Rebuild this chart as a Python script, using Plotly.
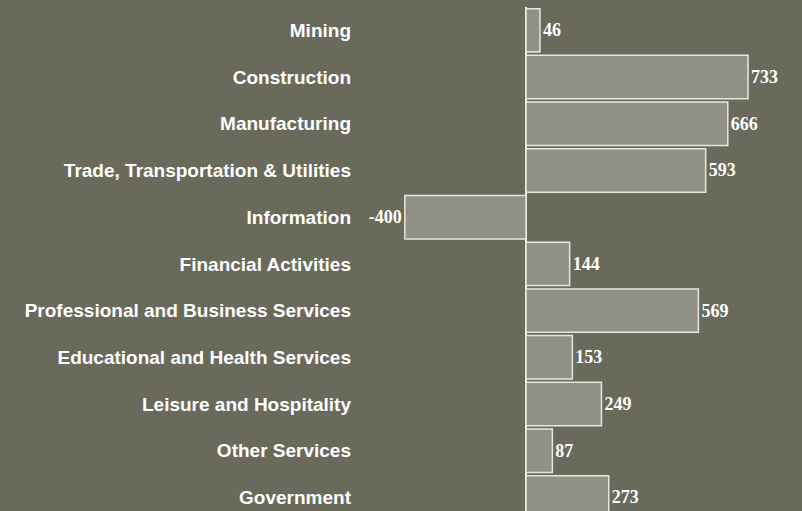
import plotly.graph_objects as go

categories = ["Mining", "Construction", "Manufacturing", "Trade, Transportation & Utilities",
              "Information", "Financial Activities", "Professional and Business Services",
              "Educational and Health Services", "Leisure and Hospitality", "Other Services",
              "Government"]
values = [46, 733, 666, 593, -400, 144, 569, 153, 249, 87, 273]
labels = [str(v) for v in values]

BG = "#696a5c"
BAR = "#909184"

fig = go.Figure(go.Bar(
    x=values, y=list(range(len(categories))), orientation="h",
    marker=dict(color=BAR, line=dict(color="#e6e6de", width=1.5)),
    text=labels, textposition="outside", cliponaxis=False,
    textfont=dict(family="Liberation Serif", size=18, color="white", weight="bold"),
))

fig.update_layout(
    width=802, height=511,
    margin=dict(l=360, r=0, t=7, b=0),
    paper_bgcolor=BG, plot_bgcolor=BG,
    bargap=0.07,
    showlegend=False,
    xaxis=dict(range=[-548, 911], showgrid=False, showticklabels=False,
               zeroline=True, zerolinecolor="white", zerolinewidth=2, showline=False),
    yaxis=dict(range=[10.29, -0.5], tickmode="array", tickvals=list(range(len(categories))),
               ticktext=categories, showgrid=False, zeroline=False, ticks="",
               ticklabelstandoff=8,
               tickfont=dict(family="Liberation Sans", size=19, color="white", weight="bold")),
)

fig.write_html("out.html", config={"displayModeBar": False},
               post_script="document.body.style.margin='0';document.body.style.background='%s';" % BG)
